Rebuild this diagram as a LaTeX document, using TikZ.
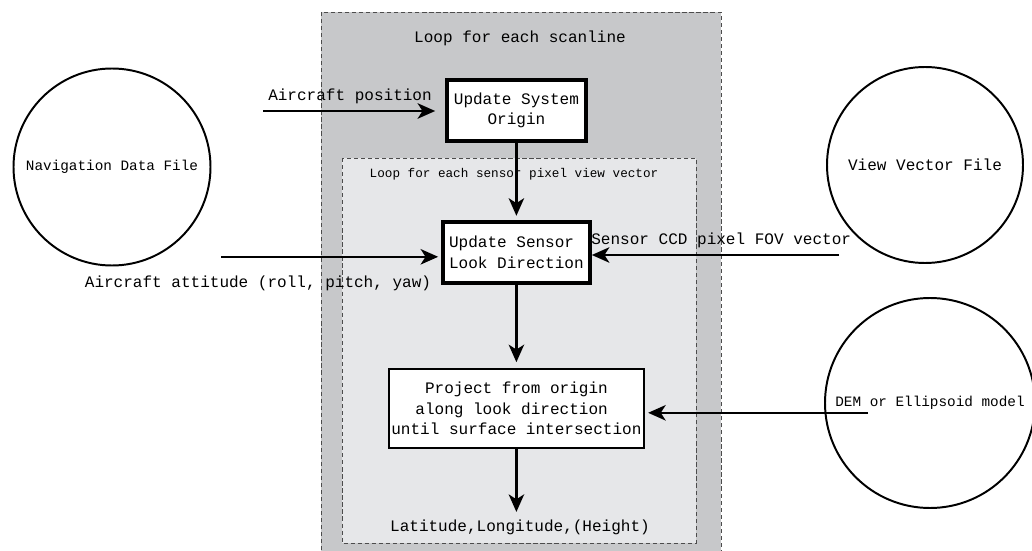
\documentclass[tikz,border=0pt]{standalone}
\usepackage{fontspec}
\setmainfont{Liberation Mono}
\usetikzlibrary{arrows.meta,positioning}
\definecolor{scangray}{RGB}{199,200,202}
\definecolor{pixgray}{RGB}{230,231,233}

\begin{document}
\begin{tikzpicture}[
    every node/.style={font=\fontsize{11.4}{14.6}\selectfont},
    loopbox/.style={draw=black!70, dash pattern=on 3pt off 2pt, line width=0.6pt},
    stepbox/.style={draw, fill=white, line width=2.7pt, inner sep=2pt},
    datafile/.style={draw, circle, line width=1.4pt, inner sep=0pt, font=\fontsize{10.2}{12}\selectfont},
    flow/.style={-{Stealth[length=12.5pt,width=11pt,inset=3.5pt]}, line width=1.6pt, shorten >=2pt}]
    \useasboundingbox (0,0) rectangle (25.8,-13.775);
    % loops
    \draw[loopbox, fill=scangray] (8.025,-0.3) rectangle (18.025,-14.2);
    \draw[loopbox, fill=pixgray] (8.55,-3.95) rectangle (17.4,-13.575);
    \node (scan) at (13.0,-0.95) {Loop for each scanline};
    \node[font=\fontsize{9}{11}\selectfont] (pix) at (12.85,-4.35) {Loop for each sensor pixel view vector};
    % steps
    \node[stepbox, minimum width=3.475cm, minimum height=1.525cm, align=center] (origin) at (12.91,-2.76) {Update System\\Origin};
    \node[stepbox, minimum width=3.675cm, minimum height=1.525cm, align=left] (look) at (12.91,-6.31) {Update Sensor\\Look Direction};
    \node[stepbox, line width=1.5pt, minimum width=6.325cm, minimum height=1.975cm, align=center] (project) at (12.91,-10.21) {Project from origin\\along look direction\hphantom{x}\\until surface intersection};
    \node (latlon) at (13.0,-13.18) {Latitude,Longitude,(Height)};
    % files
    \node[datafile, minimum size=4.925cm] (nav) at (2.8,-4.175) {Navigation Data File};
    \node[datafile, minimum size=4.9cm, font=\fontsize{11.4}{14}\selectfont] (view) at (23.125,-4.125) {View Vector File};
    \node[datafile, minimum size=5.25cm] (dem) at (23.25,-10.075) {DEM or Ellipsoid model};
    % inputs
    \coordinate (posin) at (6.575,-2.775);
    \coordinate (attin) at (5.525,-6.42);
    \coordinate (fovin) at (20.975,-6.375);
    \coordinate (demin) at (21.7,-10.32);
    \draw[flow, shorten >=7pt] (posin) -- (posin -| origin.west);
    \draw[flow] (attin) -- (attin -| look.west);
    \draw[flow, shorten >=0pt] (fovin) -- (fovin -| look.east);
    \draw[flow] (demin) -- (demin -| project.east);
    \node (poslbl) at (8.75,-2.4) {Aircraft position};
    \node (attlbl) at (6.45,-7.075) {Aircraft attitude (roll, pitch, yaw)};
    \node (fovlbl) at (18.03,-6.0) {Sensor CCD pixel FOV vector};
    % flow
    \draw[flow, shorten >=3pt] (origin) -- (look);
    \draw[flow, shorten >=4pt] (look) -- (project);
    \draw[flow] (project) -- (project |- latlon.north);
\end{tikzpicture}
\end{document}
